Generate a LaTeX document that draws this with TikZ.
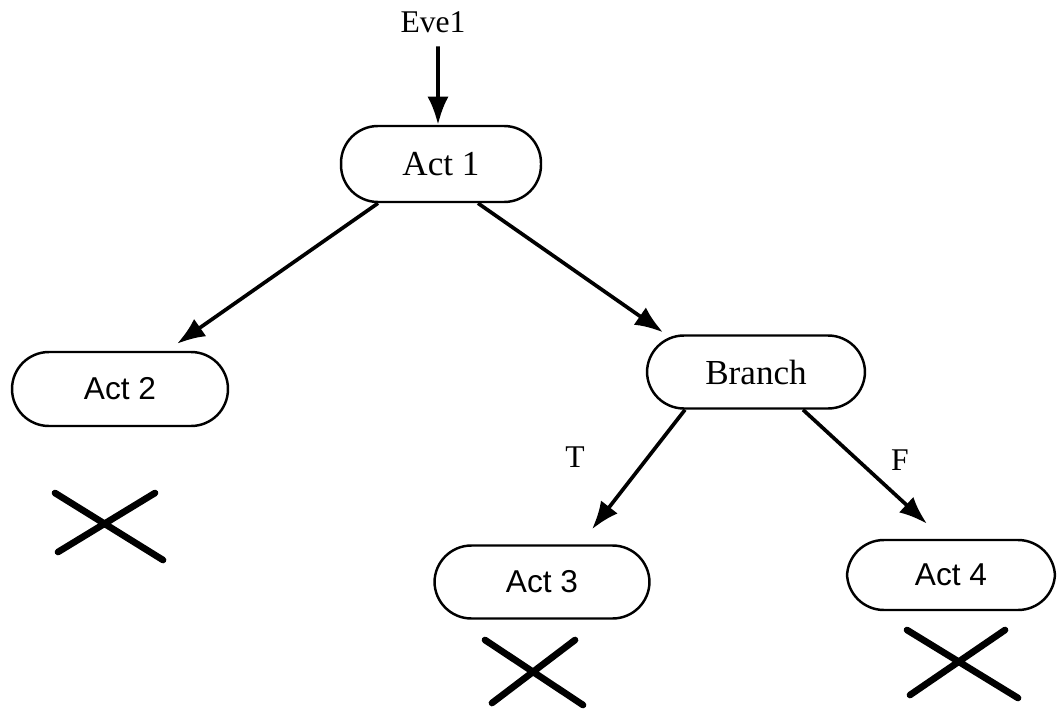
\documentclass[tikz,border=0pt]{standalone}
\usepackage{fontspec}
\setmainfont{Liberation Serif}
\newfontfamily\actsans{Liberation Sans}
\usetikzlibrary{arrows.meta}
\begin{document}
\begin{tikzpicture}[x=0.02cm,y=-0.02cm,
  actbox/.style={draw,line width=1.4pt,rounded corners=21pt,inner sep=0pt},
  flow/.style={line width=2.1pt,-{Latex[length=16pt,width=12pt]}},
  cross/.style={line width=3.8pt,line cap=round},
  serifl/.style={font=\fontsize{20}{23}\selectfont},
  sansl/.style={font=\actsans\fontsize{18}{21}\selectfont}]
\useasboundingbox (0,0) rectangle (1058,710);

% event and activity boxes
\node[font=\fontsize{18}{21}\selectfont] (eve) at (433,22) {Eve1};
\node[actbox,serifl,minimum width=4cm,minimum height=1.52cm] (act1) at (441,164) {Act 1};
\node[actbox,sansl,minimum width=4.32cm,minimum height=1.48cm] (act2) at (120,389) {Act 2};
\node[actbox,serifl,minimum width=4.36cm,minimum height=1.46cm] (branch) at (756,372) {Branch};
\node[actbox,sansl,minimum width=4.3cm,minimum height=1.46cm] (act3) at (542,582) {Act 3};
\node[actbox,sansl,minimum width=4.16cm,minimum height=1.4cm] (act4) at (951,575) {Act 4};

% branch labels
\node[font=\fontsize{18}{21}\selectfont] (tlab) at (575,457) {T};
\node[font=\fontsize{18}{21}\selectfont] (flab) at (900,460) {F};

% connectors
\draw[flow] ([xshift=0.1cm,yshift=-0.15cm]eve.south) -- ([xshift=-0.06cm]act1.north);
\draw[flow] ([xshift=-1.26cm]act1.south) -- ([xshift=1.14cm,yshift=0.14cm]act2.north);
\draw[flow] ([xshift=0.74cm]act1.south) -- ([xshift=-1.86cm,yshift=0.04cm]branch.north);
\draw[flow] ([xshift=-1.42cm]branch.south) -- ([xshift=1.0cm,yshift=0.3cm]act3.north);
\draw[flow] ([xshift=0.94cm]branch.south) -- ([xshift=-0.48cm,yshift=0.3cm]act4.north);

% terminated paths
\draw[cross] (55,493) -- (163,560) (58,552) -- (155,493);
\draw[cross] (485,640) -- (583,705) (492,703) -- (575,640);
\draw[cross] (907,630) -- (1018,698) (910,695) -- (1005,630);
\end{tikzpicture}
\end{document}
